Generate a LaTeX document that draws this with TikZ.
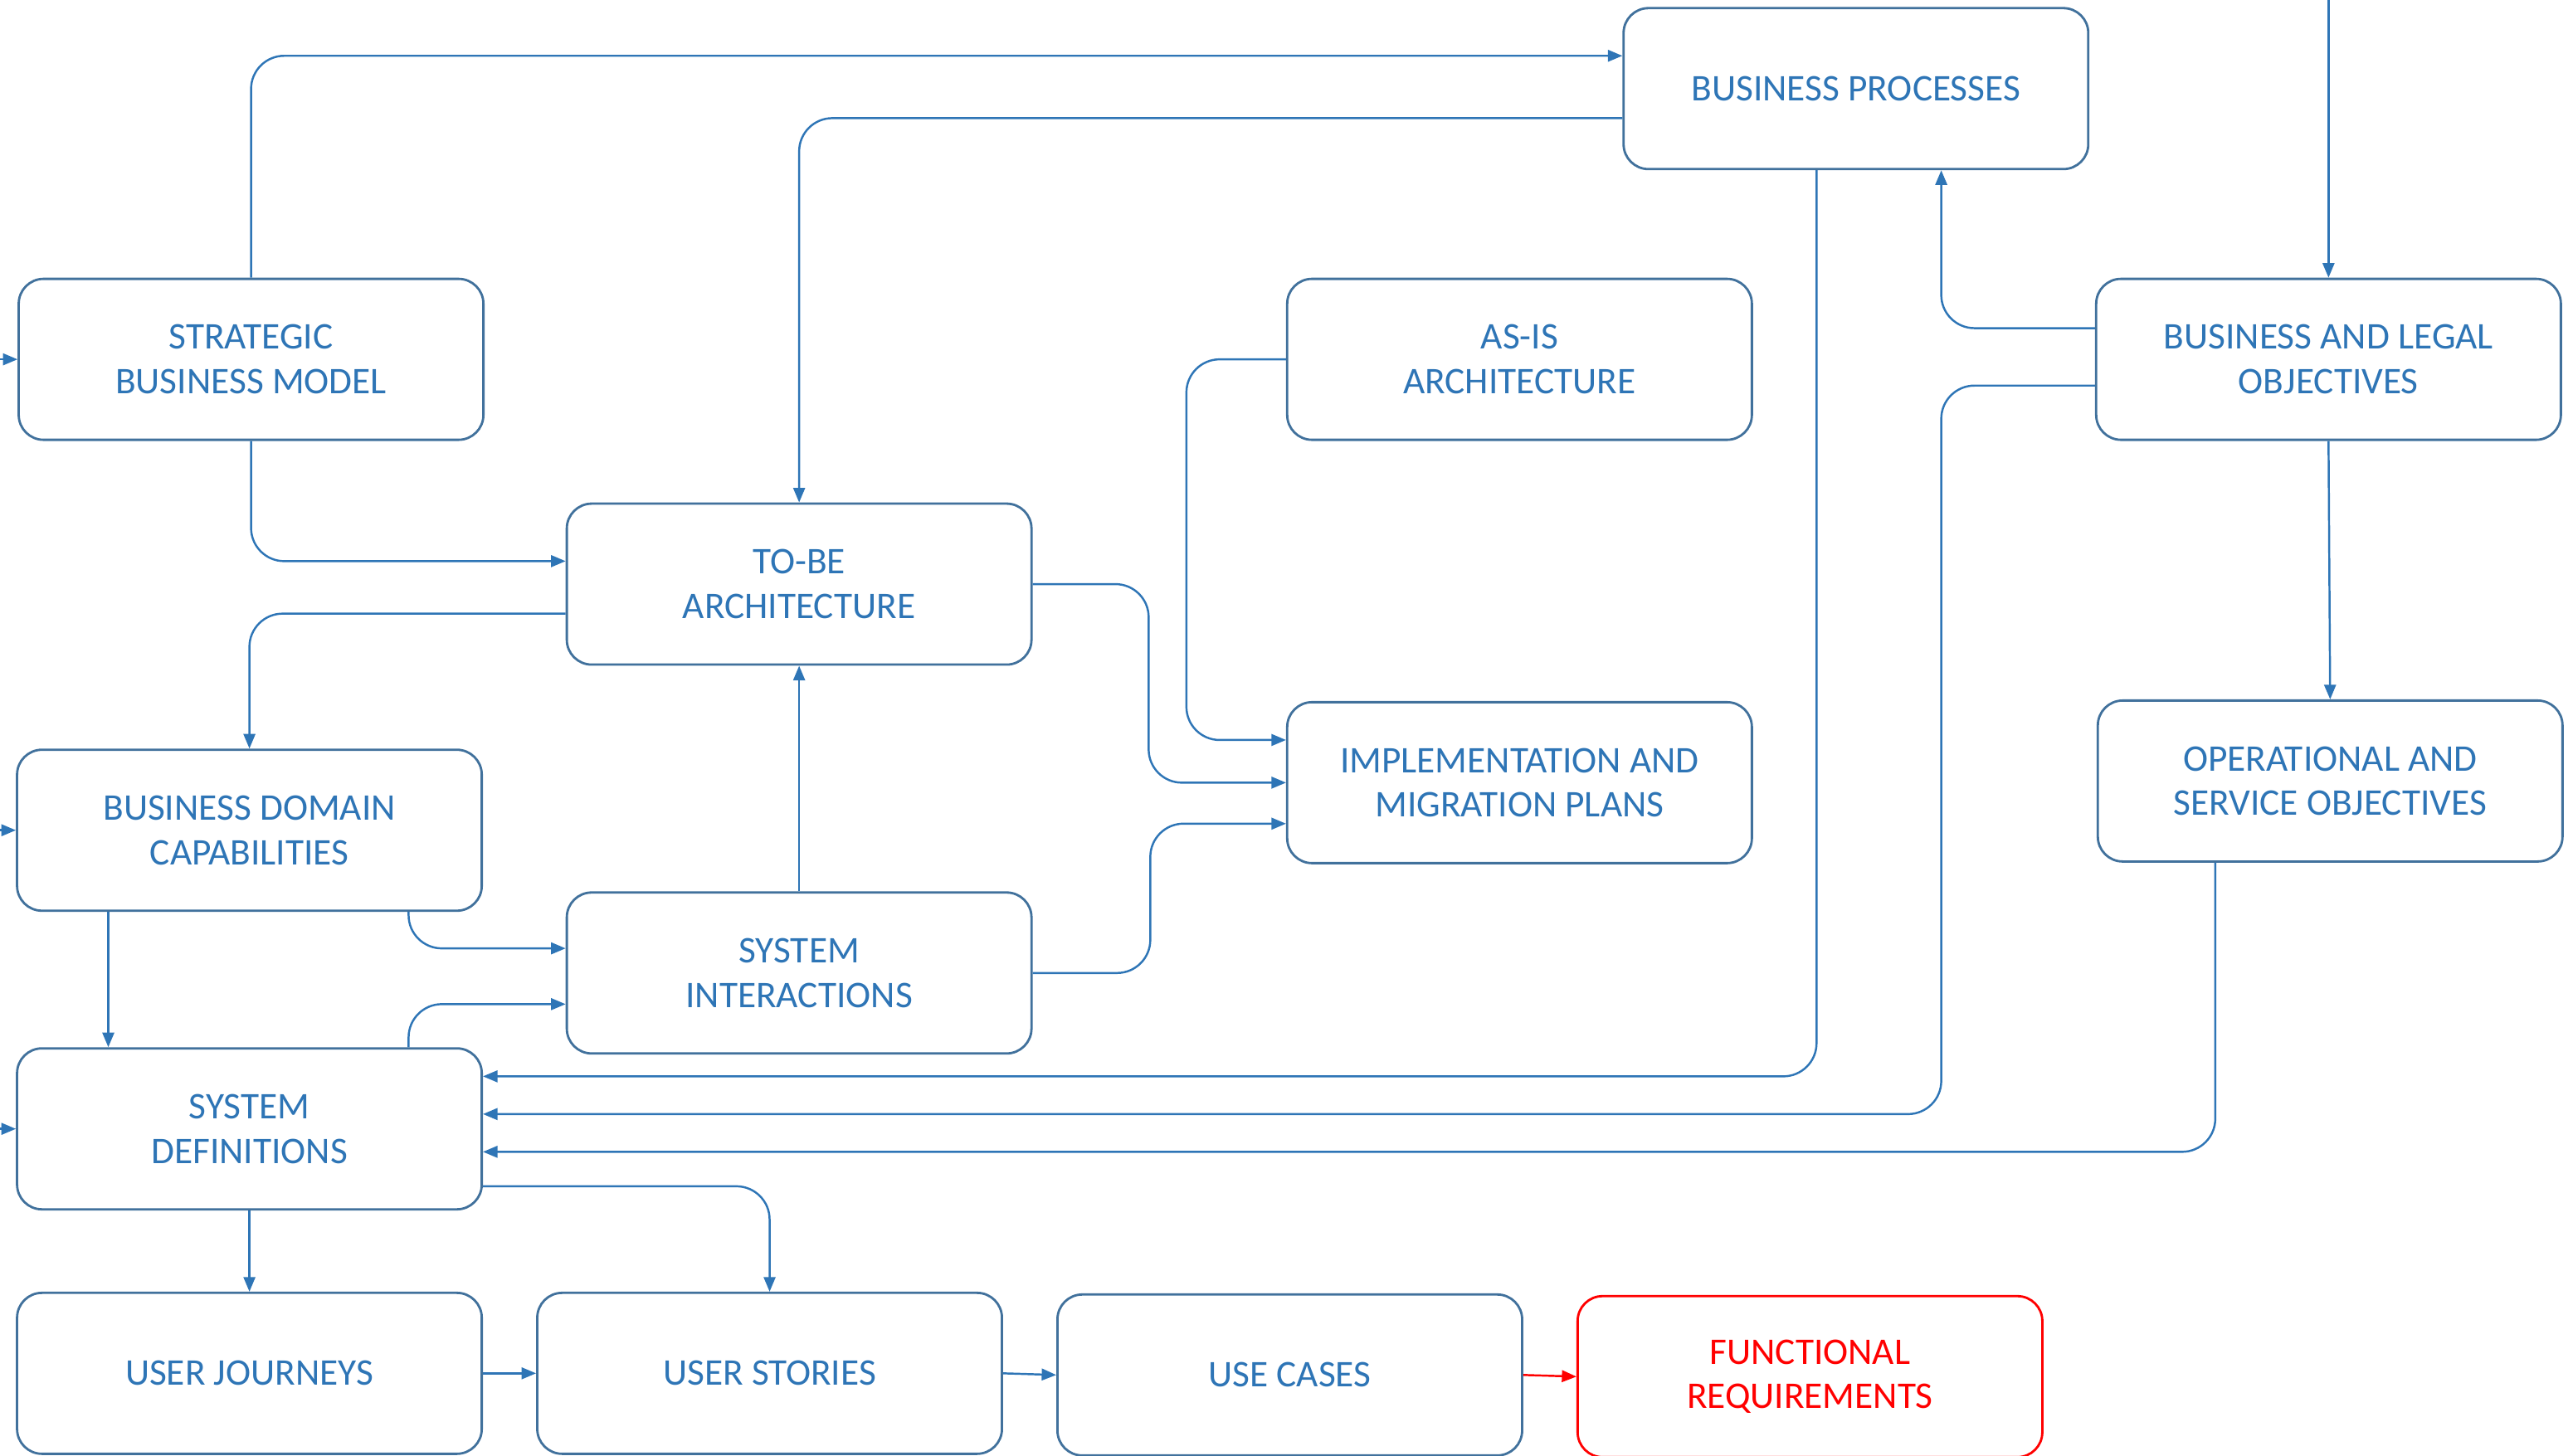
\documentclass[tikz,border=0pt]{standalone}
\usepackage{fontspec}
\setmainfont{Carlito}
\usetikzlibrary{arrows.meta}
\usetikzlibrary{positioning}
\definecolor{boxblue}{HTML}{41719C}
\definecolor{linkblue}{HTML}{2E75B6}
\newcommand{\stage}[2]{#1\\#2}
\def\StrategicModel{\stage{STRATEGIC}{BUSINESS MODEL}}
\def\BusinessProcesses{BUSINESS PROCESSES}
\def\AsIs{\stage{AS-IS}{ARCHITECTURE}}
\def\LegalObjectives{\stage{BUSINESS AND LEGAL}{OBJECTIVES}}
\def\ToBe{\stage{TO-BE}{ARCHITECTURE}}
\def\DomainCapabilities{\stage{BUSINESS DOMAIN}{CAPABILITIES}}
\def\MigrationPlans{\stage{IMPLEMENTATION AND}{MIGRATION PLANS}}
\def\ServiceObjectives{\stage{OPERATIONAL AND}{SERVICE OBJECTIVES}}
\def\Interactions{\stage{SYSTEM}{INTERACTIONS}}
\def\Definitions{\stage{SYSTEM}{DEFINITIONS}}
\def\Journeys{USER JOURNEYS}
\def\Stories{USER STORIES}
\def\UseCases{USE CASES}
\def\Requirements{\stage{FUNCTIONAL}{REQUIREMENTS}}

\begin{document}
\begin{tikzpicture}[x=0.019777cm, y=-0.019777cm,
                    stagebox/.style={draw=boxblue, line width=0.8pt,
                                     rounded corners=0.3cm,
                                     minimum width=5.6cm, minimum height=1.94cm,
                                     align=center, text=linkblue,
                                     font=\fontsize{12.9}{15.3}\selectfont},
                    link/.style={draw=linkblue, line width=0.7pt,
                                 rounded corners=0.4cm,
                                 -{Triangle[length=5pt,width=4pt]}}]
    \useasboundingbox (0,0) rectangle (1568,887);

    \node[stagebox] (sbm)  at (153,219)  {\StrategicModel};
    \node[stagebox] (bp)   at (1131,54)  {\BusinessProcesses};
    \node[stagebox] (asis) at (926,219)  {\AsIs};
    \node[stagebox] (blo)  at (1419,219) {\LegalObjectives};
    \node[stagebox] (tobe) at (487,356)  {\ToBe};
    \node[stagebox] (bdc)  at (152,506)  {\DomainCapabilities};
    \node[stagebox] (imp)  at (926,477)  {\MigrationPlans};
    \node[stagebox] (oso)  at (1420,476) {\ServiceObjectives};
    \node[stagebox] (si)   at (487,593)  {\Interactions};
    \node[stagebox] (sd)   at (152,688)  {\Definitions};
    \node[stagebox] (uj)   at (152,837)  {\Journeys};
    \node[stagebox] (us)   at (469,837)  {\Stories};
    \node[stagebox] (uc)   at (786,838)  {\UseCases};
    \node[stagebox, draw=red, text=red] (fr) at (1103,839) {\Requirements};

    % feeds from outside the picture
    \draw[link] (sbm.west -| 0,0) -- (sbm.west);
    \draw[link] (bdc.west -| 0,0) -- (bdc.west);
    \draw[link] (sd.west -| 0,0)  -- (sd.west);
    \draw[link] (blo.north |- 0,0) -- (blo.north);

    \draw[link] (sbm.north) |- (bp.west |- 0,34);
    \draw[link] (bp.west |- 0,72) -| (tobe.north);
    \draw[link] (blo.west |- 0,200) -| (1183,0 |- bp.south);
    \draw[link] (blo.west |- 0,235) -| (1183,679) -- (sd.east |- 0,679);
    \draw[link] (1107,0 |- bp.south) |- (sd.east |- 0,656);
    \draw[link] (1350,0 |- oso.south) |- (sd.east |- 0,702);
    \draw[link] (blo.south) -- (oso.north);
    \draw[link] (sbm.south) |- (tobe.west |- 0,342);
    \draw[link] (tobe.west |- 0,374) -| (bdc.north);
    \draw[link] (tobe.east) -| (700,477) -- (imp.west);
    \draw[link] (asis.west) -| (723,451) -- (imp.west |- 0,451);
    \draw[link] (si.east) -| (701,502) -- (imp.west |- 0,502);
    \draw[link] (si.north) -- (tobe.south);
    \draw[link] (249,0 |- bdc.south) |- (si.west |- 0,578);
    \draw[link] (249,0 |- sd.north) |- (si.west |- 0,612);
    \draw[link] (66,0 |- bdc.south) -- (66,0 |- sd.north);

    % requirements chain
    \draw[link] (sd.east |- 0,723) -| (us.north);
    \draw[link] (sd.south) -- (uj.north);
    \draw[link] (uj.east) -- (us.west);
    \draw[link] (us.east) -- (uc.west);
    \draw[link, draw=red] (uc.east) -- (fr.west);
\end{tikzpicture}
\end{document}
